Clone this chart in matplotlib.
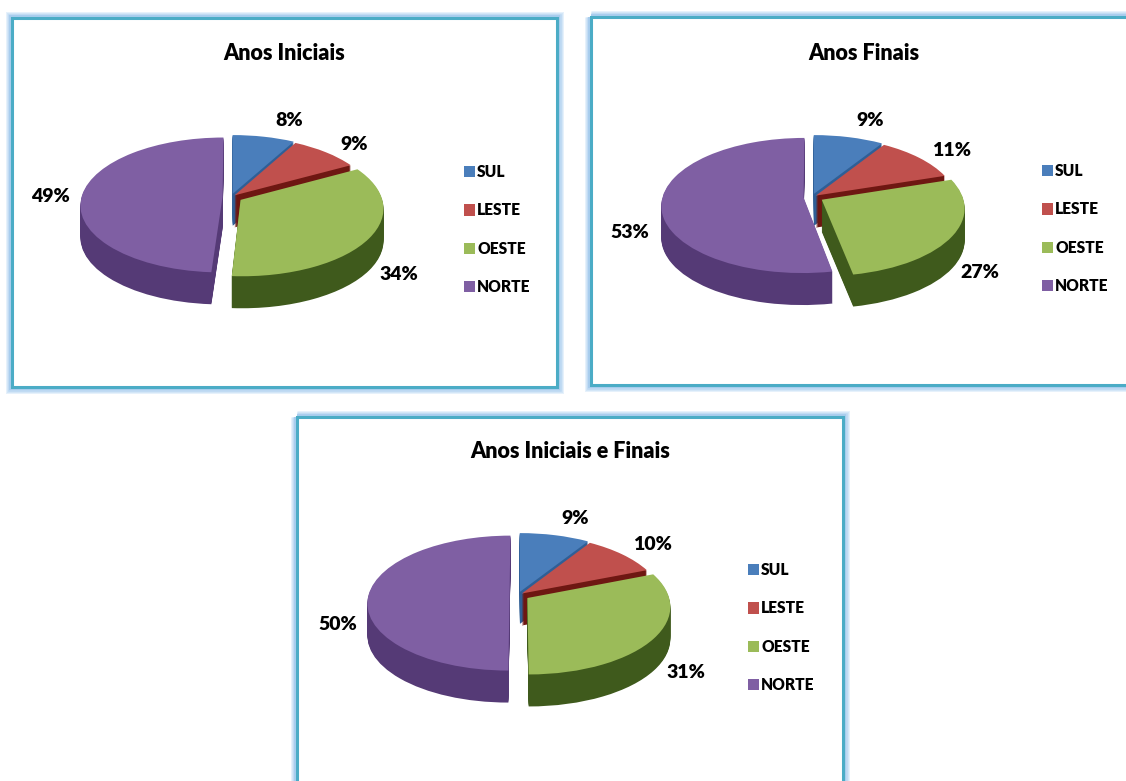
import matplotlib
matplotlib.use("Agg")
import matplotlib.pyplot as plt
import numpy as np
from matplotlib.patches import Rectangle
from matplotlib.transforms import Affine2D, Transform

categories = ["SUL", "LESTE", "OESTE", "NORTE"]
titles = ["Anos Iniciais", "Anos Finais", "Anos Iniciais e Finais"]
values_iniciais = [8, 9, 34, 49]
values_finais = [9, 11, 27, 53]
values_ambos = [9, 10, 31, 50]

top_colors = ["#4a7ebb", "#c0504d", "#9bbb59", "#7f5fa3"]
rim_colors = ["#2f5f96", "#6e1712", "#3f5a1c", "#553a76"]
explode = [0.05, 0.035, 0.08, 0.06]
FONT = ["Lato", "DejaVu Sans"]
W, H = 1126, 781
RX, SQ, TILT, DEPTH, LIM = 141.0, 66.5, 0.12, 32, 1.6

class Tilt(Transform):
    input_dims = output_dims = 2
    is_separable = False
    has_inverse = False
    def transform_non_affine(self, xy):
        xy = np.asarray(xy, dtype=float)
        w = 1 + TILT * xy[:, 1]
        return np.column_stack([xy[:, 0] / w, xy[:, 1] / w])

fig = plt.figure(figsize=(W / 100, H / 100), dpi=100, facecolor="white")
bg = fig.add_axes([0, 0, 1, 1], zorder=0)
bg.set_xlim(0, W)
bg.set_ylim(H, 0)
bg.axis("off")

def frame(x0, y0, x1, y1):
    for lw, col in [(13, "#e6f1fb"), (11, "#d3e6f7"), (8.5, "#bcd8f2"), (6, "#a9cdee")]:
        bg.add_patch(Rectangle((x0, y0), x1 - x0, y1 - y0, fc="none", ec=col, lw=lw * 0.72, clip_on=True))
    bg.add_patch(Rectangle((x0, y0), x1 - x0, y1 - y0, fc="white", ec="#4bacc6", lw=2.2, clip_on=True))

frame(12, 18, 557, 387)
frame(591, 17, 1160, 385)
frame(297, 417, 843, 800)

def pie3d(values, title, title_xy, cx, cy, label_xy, legend_xy):
    ax = fig.add_axes([(cx - LIM * RX) / W, 1 - (cy + LIM * SQ) / H, 2 * LIM * RX / W, 2 * LIM * SQ / H], zorder=2)
    base = ax.transData
    tilt = Tilt()
    for d in range(DEPTH, -1, -1):
        colors = top_colors if d == 0 else rim_colors
        wedges, _ = ax.pie(values, colors=colors, explode=explode, startangle=90, counterclock=False,
                           radius=1, wedgeprops={"linewidth": 0})
        for w in wedges:
            w.set_transform(tilt + Affine2D().translate(0, -d / SQ) + base)
            w.set_clip_on(False)
    ax.set_aspect("auto")
    ax.set_xlim(-LIM, LIM)
    ax.set_ylim(-LIM, LIM)
    ax.axis("off")
    bg.text(*title_xy, title, ha="center", va="center", fontsize=15.5, fontweight="heavy", family=FONT, color="black")
    for v, xy in zip(values, label_xy):
        bg.text(*xy, f"{v}%", ha="center", va="center", fontsize=14, fontweight="heavy", family=FONT, color="black")
    leg = ax.legend(wedges, categories, loc="upper left", bbox_to_anchor=legend_xy, bbox_transform=bg.transData,
                    frameon=False, borderaxespad=0, borderpad=0, labelspacing=1.44, handlelength=0.72,
                    handleheight=0.72, handletextpad=0.12, prop={"family": FONT, "weight": "heavy", "size": 11.2})
    for t in leg.get_texts():
        t.set_color("black")

pie3d(values_iniciais, titles[0], (284, 54), 231, 197,
      [(289, 120), (354, 145), (399, 275), (50, 196)], (464, 164))
pie3d(values_finais, titles[1], (864, 53), 812, 197,
      [(870, 120), (952, 151), (980, 273), (630, 233)], (1042, 163))
pie3d(values_ambos, titles[2], (570, 452), 518, 595,
      [(575, 518), (652, 545), (686, 673), (338, 625)], (748, 562))

fig.savefig("out.png", dpi=100, facecolor="white")
